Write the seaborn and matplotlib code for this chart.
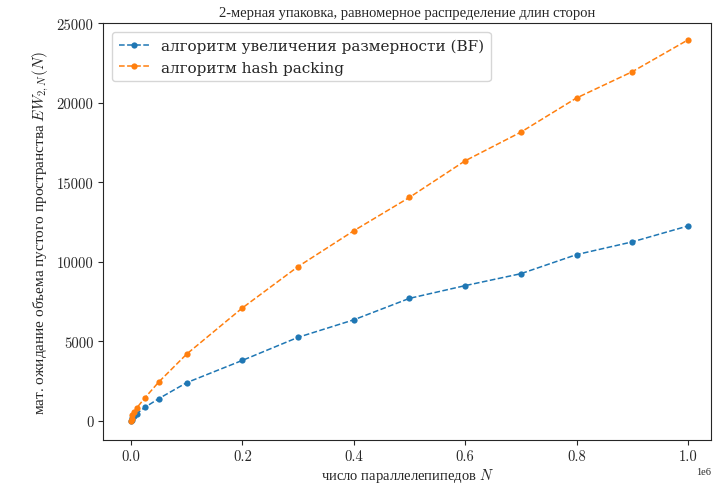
import numpy as np
import pandas as pd
import matplotlib
matplotlib.use("Agg")
import matplotlib.pyplot as plt
import seaborn as sns

# число параллелепипедов
n_vals = [100, 1000, 2500, 5000, 10000, 25000, 50000, 100000, 200000, 300000,
          400000, 500000, 600000, 700000, 800000, 900000, 1000000]
# алгоритм увеличения размерности (BF)
bf_vals = [10, 80, 200, 300, 450, 850, 1400, 2400, 3800, 5250,
           6350, 7700, 8500, 9250, 10450, 11250, 12250]
# алгоритм hash packing
hash_vals = [10, 120, 350, 550, 800, 1450, 2450, 4200, 7100, 9700,
             11950, 14050, 16350, 18150, 20300, 21950, 23950]

sns.set_style("ticks")
plt.rcParams['font.family'] = ['Liberation Serif', 'DejaVu Serif']
plt.rcParams['mathtext.fontset'] = 'cm'

fig, ax = plt.subplots(figsize=(7.17, 4.85), dpi=100)

sns.lineplot(x=n_vals, y=bf_vals, ax=ax, marker='o', markersize=4.5, markeredgewidth=0,
             linestyle='--', linewidth=1.1, color='#1f77b4',
             label='алгоритм увеличения размерности (BF)')
sns.lineplot(x=n_vals, y=hash_vals, ax=ax, marker='o', markersize=4.5, markeredgewidth=0,
             linestyle='--', linewidth=1.1, color='#ff7f0e',
             label='алгоритм hash packing')

fs = 10.5
ax.set_title('2-мерная упаковка, равномерное распределение длин сторон', fontsize=fs, pad=5)
ax.set_xlabel('число параллелепипедов $N$', fontsize=fs, labelpad=2)
ax.set_ylabel('мат. ожидание объема пустого пространства $EW_{2,N}(N)$', fontsize=11, labelpad=4)
ax.tick_params(labelsize=fs)
for lab in ax.get_xticklabels() + ax.get_yticklabels():
    lab.set_fontfamily('cmr10')
ax.xaxis.get_offset_text().set_fontsize(7.5)
ax.set_xlim(-50000, 1042000)
ax.set_ylim(-1200, 25000)
ax.legend(loc='upper left', borderaxespad=0.6,
          prop={'family': 'DejaVu Serif', 'size': 11})

fig.subplots_adjust(left=0.144, right=0.992, top=0.95, bottom=0.091)
fig.savefig('out.png', dpi=100)
